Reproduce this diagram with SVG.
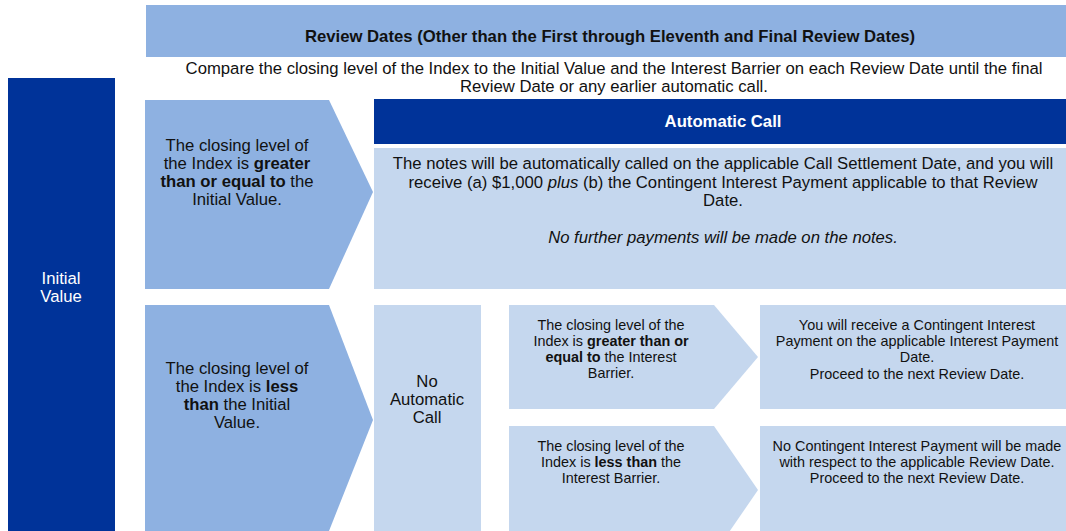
<svg xmlns="http://www.w3.org/2000/svg" width="1066" height="531" viewBox="0 0 1066 531">
<style>
text{font-family:"Liberation Sans",Arial,sans-serif;fill:#111;text-anchor:middle}
.mid{fill:#8eb1e1}
.lt{fill:#c5d7ee}
.dk{fill:#003399}
.t15{font-size:16.7px}
.t13{font-size:14.4px}
.w{fill:#fff}
.b{font-weight:bold}
</style>
<rect width="1066" height="531" fill="#fff"/>
<g id="header">
<rect class="mid" x="146" y="5" width="920" height="52"/>
<text class="b" x="610" y="42" font-size="16.7px">Review Dates (Other than the First through Eleventh and Final Review Dates)</text>
</g>
<g id="subtitle">
<text class="t15" x="614" y="74">Compare the closing level of the Index to the Initial Value and the Interest Barrier on each Review Date until the final</text>
<text class="t15" x="614" y="92">Review Date or any earlier automatic call.</text>
</g>
<g id="initial-value">
<rect class="dk" x="8" y="78" width="107" height="453"/>
<text class="t15 w" x="61" y="284">Initial</text>
<text class="t15 w" x="61" y="302">Value</text>
</g>
<g id="chevron-greater">
<polygon class="mid" points="145,100 329,100 373,192 329,289 145,289"/>
<text class="t15" x="237" y="151">The closing level of</text>
<text class="t15" x="237" y="169">the Index is <tspan class="b">greater</tspan></text>
<text class="t15" x="237" y="187"><tspan class="b">than or equal to</tspan> the</text>
<text class="t15" x="237" y="205">Initial Value.</text>
</g>
<g id="automatic-call">
<rect class="dk" x="374" y="99" width="692" height="45"/>
<text class="t15 w b" x="723" y="127">Automatic Call</text>
<rect class="lt" x="374" y="148" width="692" height="141"/>
<text class="t15" x="723" y="169">The notes will be automatically called on the applicable Call Settlement Date, and you will</text>
<text class="t15" x="723" y="188">receive (a) $1,000 <tspan font-style="italic">plus</tspan> (b) the Contingent Interest Payment applicable to that Review</text>
<text class="t15" x="723" y="206">Date.</text>
<text class="t15" x="723" y="243" font-style="italic">No further payments will be made on the notes.</text>
</g>
<g id="chevron-less">
<polygon class="mid" points="145,305 329,305 373,420 329,531 145,531"/>
<text class="t15" x="237" y="374">The closing level of</text>
<text class="t15" x="237" y="392">the Index is <tspan class="b">less</tspan></text>
<text class="t15" x="237" y="410"><tspan class="b">than</tspan> the Initial</text>
<text class="t15" x="237" y="428">Value.</text>
</g>
<g id="no-automatic-call">
<rect class="lt" x="374" y="305" width="107" height="226"/>
<text class="t15" x="427" y="387">No</text>
<text class="t15" x="427" y="405">Automatic</text>
<text class="t15" x="427" y="423">Call</text>
</g>
<g id="chevron-barrier-ge">
<polygon class="lt" points="509,305 714,305 758,357 714,409 509,409"/>
<text class="t13" x="611" y="330">The closing level of the</text>
<text class="t13" x="611" y="346">Index is <tspan class="b">greater than or</tspan></text>
<text class="t13" x="611" y="362"><tspan class="b">equal to</tspan> the Interest</text>
<text class="t13" x="611" y="378">Barrier.</text>
</g>
<g id="result-ge">
<rect class="lt" x="760" y="305" width="306" height="104"/>
<text class="t13" x="917" y="330">You will receive a Contingent Interest</text>
<text class="t13" x="917" y="346">Payment on the applicable Interest Payment</text>
<text class="t13" x="917" y="362">Date.</text>
<text class="t13" x="917" y="379">Proceed to the next Review Date.</text>
</g>
<g id="chevron-barrier-lt">
<polygon class="lt" points="509,426 714,426 758,490 714,554 509,554"/>
<text class="t13" x="611" y="451">The closing level of the</text>
<text class="t13" x="611" y="467">Index is <tspan class="b">less than</tspan> the</text>
<text class="t13" x="611" y="483">Interest Barrier.</text>
</g>
<g id="result-lt">
<rect class="lt" x="760" y="426" width="306" height="105"/>
<text class="t13" x="917" y="451">No Contingent Interest Payment will be made</text>
<text class="t13" x="917" y="467">with respect to the applicable Review Date.</text>
<text class="t13" x="917" y="483">Proceed to the next Review Date.</text>
</g>
<g id="connectors"></g>
</svg>
